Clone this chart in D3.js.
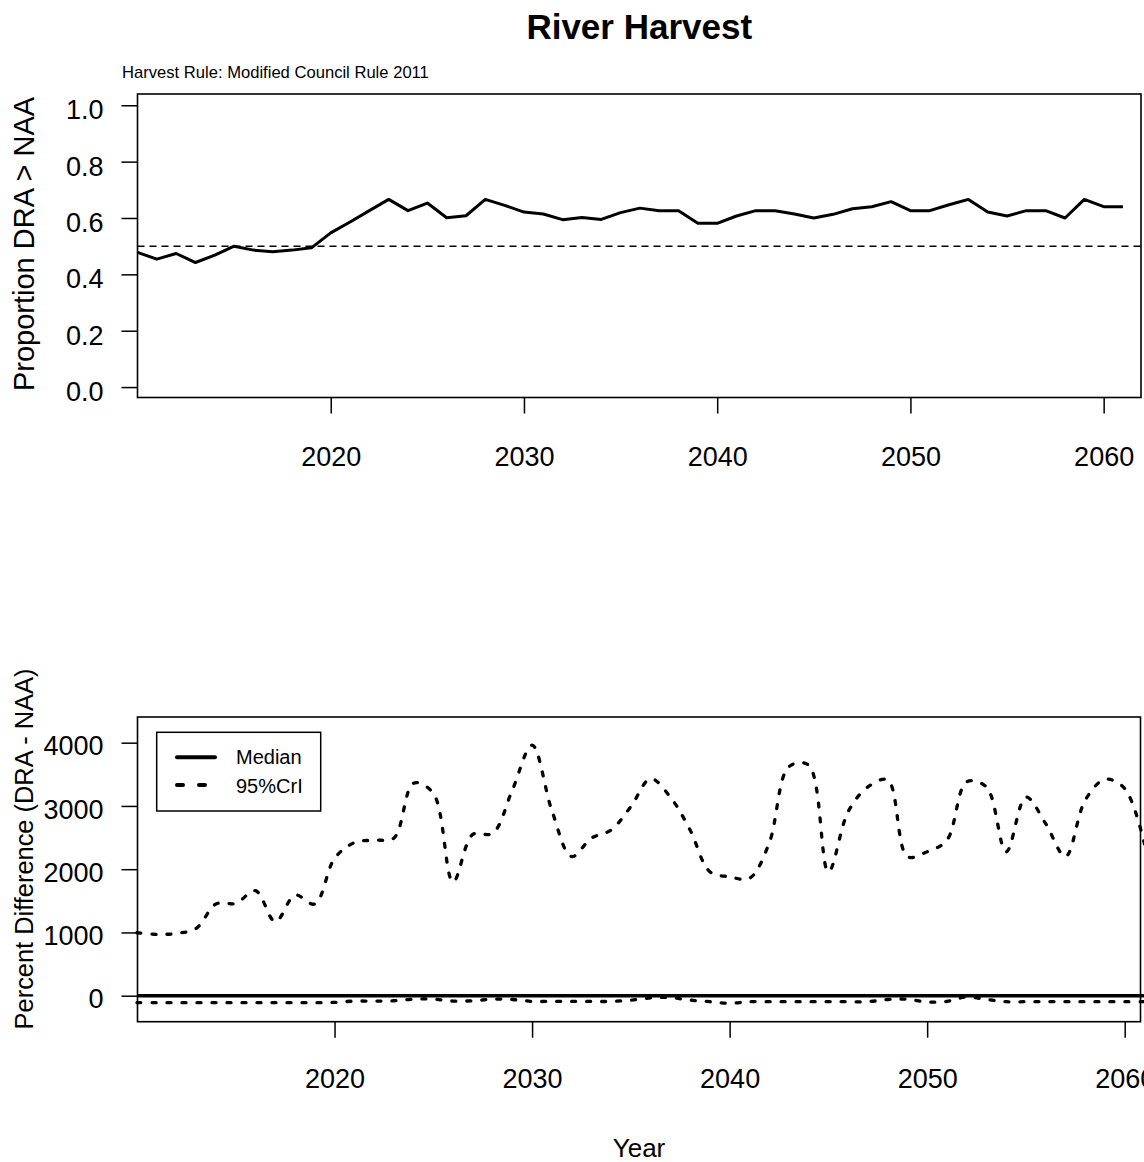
<!DOCTYPE html>
<html>
<head>
<meta charset="utf-8">
<script src="https://cdn.jsdelivr.net/npm/d3@7/dist/d3.min.js"></script>
<style>
  html, body { margin: 0; padding: 0; background: #fff; }
  svg { display: block; font-family: "Liberation Sans", Arial, Helvetica, sans-serif; }
</style>
</head>
<body>
<svg id="chart" width="1144" height="1162"></svg>
<script>
// Simulation years
const years = [2010, 2011, 2012, 2013, 2014, 2015, 2016, 2017, 2018, 2019,
  2020, 2021, 2022, 2023, 2024, 2025, 2026, 2027, 2028, 2029,
  2030, 2031, 2032, 2033, 2034, 2035, 2036, 2037, 2038, 2039,
  2040, 2041, 2042, 2043, 2044, 2045, 2046, 2047, 2048, 2049,
  2050, 2051, 2052, 2053, 2054, 2055, 2056, 2057, 2058, 2059,
  2060, 2061];

// Proportion of draws where DRA harvest exceeds NAA harvest
const propDRAgtNAA = [0.478, 0.454, 0.474, 0.442, 0.468, 0.500, 0.486, 0.480, 0.486, 0.494,
  0.547, 0.586, 0.626, 0.666, 0.626, 0.653, 0.601, 0.608, 0.666, 0.645,
  0.621, 0.614, 0.594, 0.602, 0.595, 0.619, 0.635, 0.626, 0.626, 0.581,
  0.581, 0.607, 0.626, 0.626, 0.614, 0.600, 0.613, 0.633, 0.640, 0.658,
  0.626, 0.626, 0.647, 0.666, 0.621, 0.607, 0.626, 0.626, 0.600, 0.666,
  0.640, 0.640];

// Percent difference (DRA - NAA): median and 95% credible interval
const pctMedian = [0, 0, 0, 0, 0, 0, 0, 0, 0, 0,
  0, 0, 0, 0, 0, 0, 0, 0, 0, 0,
  0, 0, 0, 0, 0, 0, 0, 0, 0, 0,
  0, 0, 0, 0, 0, 0, 0, 0, 0, 0,
  0, 0, 0, 0, 0, 0, 0, 0, 0, 0,
  0, 0];
const pctUpper = [995, 970, 985, 1065, 1450, 1460, 1660, 1170, 1590, 1450,
  2170, 2420, 2460, 2490, 3360, 3200, 1800, 2550, 2565, 3250,
  3960, 2930, 2200, 2490, 2620, 2990, 3430, 3140, 2620, 1960,
  1880, 1855, 2410, 3620, 3645, 1960, 2910, 3300, 3410, 2200,
  2275, 2460, 3380, 3300, 2275, 3140, 2720, 2200, 3090, 3420,
  3275, 2400];
const pctLower = [-110, -110, -110, -110, -110, -110, -110, -110, -110, -110,
  -105, -85, -85, -80, -55, -55, -85, -80, -55, -60,
  -90, -90, -90, -90, -90, -70, -35, -30, -70, -95,
  -120, -95, -95, -95, -95, -95, -95, -95, -60, -55,
  -100, -90, -20, -60, -95, -95, -95, -95, -95, -95,
  -95, -95];

// Axis ticks and labels
const yearTicks = [2020, 2030, 2040, 2050, 2060];
const propTicks = [0, 0.2, 0.4, 0.6, 0.8, 1.0];
const propTickLabels = ["0.0", "0.2", "0.4", "0.6", "0.8", "1.0"];
const pctTicks = [0, 1000, 2000, 3000, 4000];
const refLevel = 0.5;

const titleText = "River Harvest";
const subtitleText = "Harvest Rule: Modified Council Rule 2011";
const legendLabels = ["Median", "95%CrI"];

const svg = d3.select("#chart");
svg.append("rect").attr("width", 1144).attr("height", 1162).attr("fill", "#fff");

const tickFont = 27;

// ---------- Upper panel: proportion DRA > NAA ----------
const upBox = { left: 137.5, right: 1141, top: 94, bottom: 397.5 };
const xUp = d3.scaleLinear().domain([2010, 2062]).range([upBox.left, 1142.3]);
const yUp = d3.scaleLinear().domain([-0.037, 1.04]).range([upBox.bottom, upBox.top]);

// reference line at 0.5
svg.append("line")
  .attr("x1", upBox.left).attr("x2", upBox.right)
  .attr("y1", yUp(refLevel)).attr("y2", yUp(refLevel))
  .attr("stroke", "#000").attr("stroke-width", 1.5)
  .attr("stroke-dasharray", "7,5");

svg.append("path")
  .datum(years.map((y, i) => [y, propDRAgtNAA[i]]))
  .attr("fill", "none").attr("stroke", "#000")
  .attr("stroke-width", 3).attr("stroke-linejoin", "round")
  .attr("d", d3.line().x(d => xUp(d[0])).y(d => yUp(d[1])));

svg.append("rect")
  .attr("x", upBox.left).attr("y", upBox.top)
  .attr("width", upBox.right - upBox.left).attr("height", upBox.bottom - upBox.top)
  .attr("fill", "none").attr("stroke", "#000").attr("stroke-width", 1.6);

const xAxisUp = svg.append("g")
  .attr("transform", `translate(0,${upBox.bottom})`)
  .call(d3.axisBottom(xUp).tickValues(yearTicks).tickFormat(d3.format("d"))
    .tickSize(16).tickSizeOuter(0));
xAxisUp.select(".domain").remove();
xAxisUp.selectAll(".tick line").attr("stroke", "#000").attr("stroke-width", 1.5);
xAxisUp.selectAll(".tick text")
  .attr("y", 68.5).attr("dy", 0)
  .attr("font-size", tickFont).attr("fill", "#000");

const yAxisUp = svg.append("g")
  .attr("transform", `translate(${upBox.left},0)`)
  .call(d3.axisLeft(yUp).tickValues(propTicks)
    .tickFormat((d, i) => propTickLabels[i]).tickSize(16).tickSizeOuter(0));
yAxisUp.select(".domain").remove();
yAxisUp.selectAll(".tick line").attr("stroke", "#000").attr("stroke-width", 1.5);
yAxisUp.selectAll(".tick text")
  .attr("x", -34).attr("dy", "0.5em")
  .attr("font-size", tickFont).attr("fill", "#000");

svg.append("text")
  .attr("transform", `translate(34,244) rotate(-90)`)
  .attr("text-anchor", "middle").attr("font-size", 29).text("Proportion DRA > NAA");

svg.append("text")
  .attr("x", (upBox.left + upBox.right) / 2).attr("y", 39)
  .attr("text-anchor", "middle").attr("font-size", 35).attr("font-weight", "bold")
  .text(titleText);

svg.append("text")
  .attr("x", 122).attr("y", 78)
  .attr("font-size", 16.6).text(subtitleText);

// ---------- Lower panel: percent difference ----------
const lowBox = { left: 137.5, right: 1140.5, top: 717, bottom: 1021.7 };
const xLow = d3.scaleLinear().domain([2010, 2060.8]).range([137, lowBox.right]);
const yLow = d3.scaleLinear().domain([-411, 4406]).range([lowBox.bottom, lowBox.top]);

const medianLine = d3.line().x(d => xLow(d[0])).y(d => yLow(d[1]));

svg.append("path")
  .datum(years.map((y, i) => [y, pctMedian[i]]))
  .attr("fill", "none").attr("stroke", "#000").attr("stroke-width", 3.5)
  .attr("d", medianLine);

const ciLine = d3.line().x(d => xLow(d[0])).y(d => yLow(d[1]))
  .curve(d3.curveCatmullRom.alpha(0.5));

[pctUpper, pctLower].forEach(series => {
  svg.append("path")
    .datum(years.map((y, i) => [y, series[i]]))
    .attr("fill", "none").attr("stroke", "#000").attr("stroke-width", 3.3)
    .attr("stroke-linecap", "round").attr("stroke-dasharray", "4,11")
    .attr("d", ciLine);
});

svg.append("rect")
  .attr("x", lowBox.left).attr("y", lowBox.top)
  .attr("width", lowBox.right - lowBox.left).attr("height", lowBox.bottom - lowBox.top)
  .attr("fill", "none").attr("stroke", "#000").attr("stroke-width", 1.6);

const xAxisLow = svg.append("g")
  .attr("transform", `translate(0,${lowBox.bottom})`)
  .call(d3.axisBottom(xLow).tickValues(yearTicks).tickFormat(d3.format("d"))
    .tickSize(16).tickSizeOuter(0));
xAxisLow.select(".domain").remove();
xAxisLow.selectAll(".tick line").attr("stroke", "#000").attr("stroke-width", 1.5);
xAxisLow.selectAll(".tick text")
  .attr("y", 66.3).attr("dy", 0)
  .attr("font-size", tickFont).attr("fill", "#000");

const yAxisLow = svg.append("g")
  .attr("transform", `translate(${lowBox.left},0)`)
  .call(d3.axisLeft(yLow).tickValues(pctTicks).tickFormat(d3.format("d"))
    .tickSize(16).tickSizeOuter(0));
yAxisLow.select(".domain").remove();
yAxisLow.selectAll(".tick line").attr("stroke", "#000").attr("stroke-width", 1.5);
yAxisLow.selectAll(".tick text")
  .attr("x", -34).attr("dy", "0.45em")
  .attr("font-size", tickFont).attr("fill", "#000");

svg.append("text")
  .attr("transform", `translate(33,849) rotate(-90)`)
  .attr("text-anchor", "middle").attr("font-size", 25.4).text("Percent Difference (DRA - NAA)");

svg.append("text")
  .attr("x", (lowBox.left + lowBox.right) / 2).attr("y", 1157)
  .attr("text-anchor", "middle").attr("font-size", 26).text("Year");

// legend
const lg = svg.append("g");
lg.append("rect")
  .attr("x", 156.7).attr("y", 732.3).attr("width", 164).attr("height", 78.7)
  .attr("fill", "#fff").attr("stroke", "#000").attr("stroke-width", 1.5);
lg.append("line")
  .attr("x1", 177).attr("x2", 215).attr("y1", 757.3).attr("y2", 757.3)
  .attr("stroke", "#000").attr("stroke-width", 4).attr("stroke-linecap", "round");
lg.append("line")
  .attr("x1", 177).attr("x2", 215).attr("y1", 785).attr("y2", 785)
  .attr("stroke", "#000").attr("stroke-width", 4).attr("stroke-linecap", "round")
  .attr("stroke-dasharray", "6,16");
lg.append("text").attr("x", 236).attr("y", 764.3).attr("font-size", 20).text(legendLabels[0]);
lg.append("text").attr("x", 236).attr("y", 793.3).attr("font-size", 20).text(legendLabels[1]);
</script>
</body>
</html>
